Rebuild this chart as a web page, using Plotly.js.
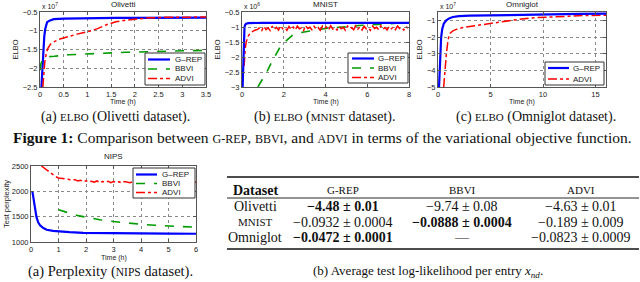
<!DOCTYPE html>
<html><head><meta charset="utf-8">
<script src="https://cdn.plot.ly/plotly-3.0.1.min.js"></script>
<style>html,body{margin:0;padding:0;background:#fff}#chart{width:640px;height:282px}</style>
</head><body><div id="chart"></div>
<script>
// ---------------- data ----------------
const seriesNames = ['G–REP', 'BBVI', 'ADVI'];

// Olivetti (ELBO x 1e7)
const ol_t_grep = [0.03, 0.05, 0.07, 0.09, 0.11, 0.13, 0.15, 0.2, 0.29, 0.5, 0.8, 1.2, 1.6, 2.0, 2.5, 3.0, 3.5];
const ol_grep   = [-2.5, -2.0, -1.5, -1.15, -0.95, -0.83, -0.77, -0.73, -0.69, -0.675, -0.665, -0.66, -0.655, -0.655, -0.65, -0.65, -0.65];
const ol_t_bbvi = [0.0, 0.02, 0.05, 0.1, 0.15, 0.2, 0.3, 0.4, 0.5, 0.6, 0.8, 1.0, 1.2, 1.4, 1.6, 1.8, 2.0, 2.2, 2.4, 2.6, 2.8, 3.0, 3.2, 3.5];
const ol_bbvi   = [-2.05, -1.88, -1.79, -1.74, -1.72, -1.69, -1.68, -1.66, -1.655, -1.64, -1.63, -1.615, -1.6, -1.59, -1.585, -1.575, -1.565, -1.56, -1.55, -1.545, -1.54, -1.535, -1.53, -1.525];
const ol_t_advi = [0.06, 0.08, 0.1, 0.13, 0.16, 0.22, 0.3, 0.4, 0.57, 0.78, 1.0, 1.2, 1.4, 1.6, 1.8, 2.0, 2.3, 2.7, 3.1, 3.5];
const ol_advi   = [-2.5, -2.1, -1.85, -1.62, -1.48, -1.36, -1.29, -1.23, -1.16, -1.09, -1.03, -0.95, -0.84, -0.76, -0.72, -0.69, -0.655, -0.64, -0.635, -0.635];

// MNIST (ELBO x 1e6)
const mn_t_grep = [0.03, 0.06, 0.09, 0.12, 0.16, 0.2, 0.3, 0.5, 1, 2, 4, 6, 8];
const mn_grep   = [-3.0, -2.0, -1.3, -1.0, -0.92, -0.89, -0.87, -0.86, -0.86, -0.86, -0.86, -0.86, -0.86];
const mn_t_bbvi = [0.76, 1.0, 1.24, 1.45, 1.64, 1.8, 1.96, 2.2, 2.43, 2.8, 3.23, 3.6, 4.02, 4.4, 4.82, 5.2, 5.6, 6.0, 6.4, 6.8, 7.2, 7.6, 8.0];
const mn_bbvi   = [-3.0, -2.72, -2.43, -2.13, -1.88, -1.7, -1.55, -1.4, -1.27, -1.19, -1.13, -1.09, -1.05, -1.02, -1.0, -0.97, -0.95, -0.935, -0.92, -0.9, -0.885, -0.87, -0.85];
const mn_t_advi = [0.10, 0.13, 0.16, 0.20, 0.25, 0.30, 0.38, 0.46, 0.55, 0.65, 0.75,
  0.85, 0.95, 1.05, 1.15, 1.25, 1.35, 1.45, 1.55, 1.65, 1.75, 1.85, 1.95, 2.05, 2.15, 2.25, 2.35,
  2.45, 2.55, 2.65, 2.75, 2.85, 2.95, 3.05, 3.15, 3.25, 3.35, 3.45, 3.55, 3.65, 3.75, 3.85, 3.95,
  4.05, 4.15, 4.25, 4.35, 4.45, 4.55, 4.65, 4.75, 4.85, 4.95, 5.05, 5.15, 5.25, 5.35, 5.45, 5.55,
  5.65, 5.75, 5.85, 5.95, 6.05, 6.15, 6.25, 6.35, 6.45, 6.55, 6.65, 6.75, 6.85, 6.95, 7.05, 7.15,
  7.25, 7.35, 7.45, 7.55, 7.65, 7.75, 7.85, 7.95];
const mn_advi = [-2.3, -1.9, -1.7, -1.5, -1.38, -1.3, -1.22, -1.17, -1.13, -1.1, -1.08,
  -1.02, -1.11, -0.98, -1.09, -1.03, -1.12, -0.97, -1.07, -1.01, -1.10, -0.96, -1.06, -1.02, -1.11, -0.98, -1.08,
  -1.00, -1.10, -0.97, -1.06, -1.03, -1.12, -0.96, -1.05, -1.01, -1.09, -0.98, -1.07, -1.02, -1.11, -0.97, -1.05,
  -1.00, -1.09, -0.96, -1.07, -1.03, -1.10, -0.98, -1.06, -1.01, -1.11, -0.97, -1.05, -1.02, -1.09, -0.96, -1.07,
  -1.00, -1.10, -0.98, -1.06, -1.03, -1.11, -0.97, -1.05, -1.01, -1.09, -0.96, -1.07, -1.02, -1.10, -0.98, -1.06,
  -1.00, -1.09, -0.97, -1.05, -1.02, -1.10, -0.98, -1.04];

// Omniglot (ELBO x 1e7)
const om_t_grep = [0.1, 0.15, 0.22, 0.3, 0.41, 0.55, 0.79, 1.1, 1.42, 2.0, 3.0, 4.5, 6.1, 8.5, 10.9, 13.5, 16];
const om_grep   = [-5.0, -4.0, -3.0, -2.0, -1.5, -1.2, -1.0, -0.87, -0.8, -0.75, -0.72, -0.7, -0.68, -0.65, -0.63, -0.615, -0.6];
const om_t_advi = [0.54, 0.65, 0.8, 0.95, 1.1, 1.42, 1.8, 2.37, 3.2, 4.6, 6.15, 7.7, 9.3, 10.9, 12.5, 14.0, 16];
const om_advi   = [-5.0, -4.0, -3.0, -2.2, -1.8, -1.63, -1.53, -1.43, -1.35, -1.24, -1.08, -0.94, -0.84, -0.78, -0.75, -0.71, -0.69];

// NIPS (test perplexity)
const ni_t_grep = [0.05, 0.08, 0.12, 0.16, 0.2, 0.26, 0.33, 0.45, 0.57, 0.8, 1.0, 1.4, 1.9, 3, 4, 5, 6];
const ni_grep   = [2000, 1880, 1750, 1600, 1490, 1390, 1330, 1275, 1241, 1220, 1208, 1195, 1182, 1172, 1167, 1164, 1163];
const ni_t_bbvi = [1.0, 1.25, 1.5, 1.75, 2.0, 2.5, 3.0, 3.5, 4.0, 4.5, 5.0, 5.5, 6.0];
const ni_bbvi   = [1635, 1590, 1550, 1515, 1490, 1440, 1405, 1375, 1348, 1330, 1313, 1300, 1292];
const ni_t_advi = [0.38, 0.45, 0.5, 0.6, 0.7, 0.8, 0.9,
  1.0, 1.1, 1.2, 1.3, 1.4, 1.5, 1.6, 1.7, 1.8, 1.9, 2.0, 2.1, 2.2, 2.3, 2.4, 2.5, 2.6, 2.7, 2.8, 2.9,
  3.0, 3.1, 3.2, 3.3, 3.4, 3.5, 3.6, 3.7, 3.8, 3.9, 4.0, 4.1, 4.2, 4.3, 4.4, 4.5, 4.6, 4.7, 4.8, 4.9,
  5.0, 5.1, 5.2, 5.3, 5.4, 5.5, 5.6, 5.7, 5.8, 5.9, 6.0];
const ni_advi = [2500, 2470, 2455, 2400, 2370, 2330, 2290,
  2265, 2255, 2250, 2235, 2240, 2225, 2230, 2205, 2220, 2190, 2210, 2185, 2200, 2180, 2205, 2175, 2195, 2180, 2200, 2170,
  2195, 2175, 2190, 2165, 2195, 2180, 2170, 2190, 2165, 2185, 2175, 2190, 2170, 2185, 2175, 2165, 2185, 2175, 2190, 2170,
  2180, 2185, 2170, 2180, 2175, 2185, 2170, 2180, 2175, 2185, 2180];

// table
const tableHeader = ['Dataset', 'G-REP', 'BBVI', 'ADVI'];
const tableDatasets = ['Olivetti', 'MNIST', 'Omniglot'];
const col_grep = ['−4.48 ± 0.01', '−0.0932 ± 0.0004', '−0.0472 ± 0.0001'];
const col_bbvi = ['−9.74 ± 0.08', '−0.0888 ± 0.0004', '—'];
const col_advi = ['−4.63 ± 0.01', '−0.189 ± 0.009', '−0.0823 ± 0.0009'];
const boldCells = [[0, 0], [1, 1], [2, 0]]; // [row, method col]

// ---------------- layout helpers ----------------
const W = 640, H = 282;
const px = x => x / W, py = y => 1 - y / H;
const BLUE = 'rgb(0,0,255)', GREEN = 'rgb(0,155,0)', RED = 'rgb(255,0,0)';
const styles = [
  {color: BLUE, width: 2.2, dash: 'solid'},
  {color: GREEN, width: 1.6, dash: 'dash'},
  {color: RED, width: 1.5, dash: 'dashdot'}
];
const SANS = 'Liberation Sans, Arial, sans-serif';
const SERIF = 'Liberation Serif, Times New Roman, serif';

function axis(dom, range, dtick, title, anchor, standoff) {
  const a = {
    domain: dom, range: range, dtick: dtick, tick0: 0, anchor: anchor,
    showgrid: true, gridcolor: '#8a8a8a', griddash: 'dot', gridwidth: 1,
    zeroline: false, showline: true, mirror: 'ticks', linecolor: '#555', linewidth: 1,
    ticks: 'inside', ticklen: 3, tickcolor: '#555',
    tickfont: {family: SANS, size: 7.5, color: '#222'},
    automargin: false, fixedrange: true
  };
  if (title) a.title = {text: title, font: {family: SANS, size: 7.5, color: '#222'}, standoff: standoff};
  return a;
}

function tr(x, y, xa, ya, k) {
  return {x: x, y: y, xaxis: xa, yaxis: ya, type: 'scatter', mode: 'lines',
    name: seriesNames[k], showlegend: false, hoverinfo: 'skip',
    line: {color: styles[k].color, width: styles[k].width, dash: styles[k].dash}};
}

const data = [
  tr(ol_t_grep, ol_grep, 'x', 'y', 0),
  tr(ol_t_bbvi, ol_bbvi, 'x', 'y', 1),
  tr(ol_t_advi, ol_advi, 'x', 'y', 2),
  tr(mn_t_bbvi, mn_bbvi, 'x2', 'y2', 1),
  tr(mn_t_advi, mn_advi, 'x2', 'y2', 2),
  tr(mn_t_grep, mn_grep, 'x2', 'y2', 0),
  tr(om_t_advi, om_advi, 'x3', 'y3', 2),
  tr(om_t_grep, om_grep, 'x3', 'y3', 0),
  tr(ni_t_grep, ni_grep, 'x4', 'y4', 0),
  tr(ni_t_bbvi, ni_bbvi, 'x4', 'y4', 1),
  tr(ni_t_advi, ni_advi, 'x4', 'y4', 2)
];

const shapes = [];
const annotations = [];

function ann(text, x, y, opts) {
  annotations.push(Object.assign({
    text: text, x: px(x), y: py(y), xref: 'paper', yref: 'paper', showarrow: false,
    xanchor: 'center', yanchor: 'middle', borderpad: 0,
    font: {family: SANS, size: 8, color: '#222'}
  }, opts || {}));
}

// manual legends
function legendBox(x0, y0, x1, y1, lx0, lx1, tx, entries) {
  shapes.push({type: 'rect', xref: 'paper', yref: 'paper', x0: px(x0), x1: px(x1), y0: py(y0), y1: py(y1),
    fillcolor: 'white', line: {color: '#333', width: 1}});
  entries.forEach(e => {
    const s = styles[e.k];
    shapes.push({type: 'line', xref: 'paper', yref: 'paper', x0: px(lx0), x1: px(lx1), y0: py(e.y), y1: py(e.y),
      line: {color: s.color, width: s.width, dash: s.dash}});
    ann(seriesNames[e.k], tx, e.y, {xanchor: 'left'});
  });
}

// plot domains (pixels)
const P1 = {x0: 40, x1: 206, y0: 12, y1: 87};
const P2 = {x0: 242, x1: 409, y0: 12, y1: 87};
const P3 = {x0: 438, x1: 606, y0: 12, y1: 87};
const P4 = {x0: 31, x1: 196, y0: 166, y1: 242};
const xd = p => [px(p.x0), px(p.x1)], yd = p => [py(p.y1), py(p.y0)];

const layout = {
  width: W, height: H, margin: {l: 0, r: 0, t: 0, b: 0},
  paper_bgcolor: 'white', plot_bgcolor: 'white', showlegend: false,
  font: {family: SANS, size: 8, color: '#222'},
  xaxis: axis(xd(P1), [0, 3.5], 0.5, null, 'y', 0),
  yaxis: axis(yd(P1), [-2.5, -0.5], 0.5, 'ELBO', 'x', 3),
  xaxis2: axis(xd(P2), [0, 8], 2, null, 'y2', 0),
  yaxis2: axis(yd(P2), [-3, -0.5], 0.5, 'ELBO', 'x2', 3),
  xaxis3: axis(xd(P3), [0, 16], 5, null, 'y3', 0),
  yaxis3: axis(yd(P3), [-5, -0.5], 1, 'ELBO', 'x3', 3),
  xaxis4: axis(xd(P4), [0, 6], 1, null, 'y4', 0),
  yaxis4: axis(yd(P4), [1000, 2500], 500, 'Test perplexity', 'x4', 1),
  shapes: shapes, annotations: annotations
};

// plot titles, x-axis titles & exponents
const smallFont = {family: SANS, size: 7, color: '#222'};
ann('Olivetti', (P1.x0 + P1.x1) / 2, 4);
ann('MNIST', (P2.x0 + P2.x1) / 2, 4);
ann('Omniglot', (P3.x0 + P3.x1) / 2, 4);
ann('NIPS', (P4.x0 + P4.x1) / 2, 156);
[P1, P2, P3].forEach(p => ann('Time (h)', (p.x0 + p.x1) / 2, 102.5, {font: smallFont}));
ann('Time (h)', (P4.x0 + P4.x1) / 2, 257.5, {font: smallFont});
ann('x 10<sup>7</sup>', P1.x0 + 1, 6, {xanchor: 'left', font: smallFont});
ann('x 10<sup>6</sup>', P2.x0 + 1, 6, {xanchor: 'left', font: smallFont});
ann('x 10<sup>7</sup>', P3.x0 + 1, 6, {xanchor: 'left', font: smallFont});

// legends
legendBox(145, 53, 205, 85, 148, 170, 174, [{k: 0, y: 59.5}, {k: 1, y: 69}, {k: 2, y: 78.5}]);
legendBox(348, 53, 408, 83, 352, 374, 377, [{k: 0, y: 58.5}, {k: 1, y: 68}, {k: 2, y: 77.5}]);
legendBox(545, 62, 604, 85, 548, 569, 572, [{k: 0, y: 68}, {k: 2, y: 79}]);
legendBox(133, 168, 195, 198, 136, 157, 161, [{k: 0, y: 174.5}, {k: 1, y: 183.5}, {k: 2, y: 192.5}]);

// captions
const capFont = s => ({family: SERIF, size: s, color: '#111'});
ann('(a) ' + "<span style='font-size:11px'>ELBO</span>" + ' (Olivetti dataset).', 115, 116.5, {font: capFont(14)});
ann('(b) ' + "<span style='font-size:11px'>ELBO</span>" + ' (' + "<span style='font-size:11px'>MNIST</span>" + ' dataset).', 325, 116.5, {font: capFont(14)});
ann('(c) ' + "<span style='font-size:11px'>ELBO</span>" + ' (Omniglot dataset).', 536, 116.5, {font: capFont(14)});
ann("<b>Figure 1:</b> Comparison between <span style='font-size:12px'>G-REP</span>, <span style='font-size:12px'>BBVI</span>, and <span style='font-size:12px'>ADVI</span> in terms of the variational objective function.",
  322, 137, {font: capFont(15.5)});
ann('(a) Perplexity (' + "<span style='font-size:11.5px'>NIPS</span>" + ' dataset).', 110, 271, {font: capFont(14.5)});
ann('(b) Average test log-likelihood per entry <i>x</i><sub><i>nd</i></sub>.', 428, 271, {font: capFont(13)});

// table
const TX0 = 227, TX1 = 639;
shapes.push({type: 'line', xref: 'paper', yref: 'paper', x0: px(TX0), x1: px(TX1), y0: py(177), y1: py(177), line: {color: '#111', width: 1.5}});
shapes.push({type: 'line', xref: 'paper', yref: 'paper', x0: px(TX0), x1: px(TX1), y0: py(198), y1: py(198), line: {color: '#111', width: 0.9}});
shapes.push({type: 'line', xref: 'paper', yref: 'paper', x0: px(TX0), x1: px(TX1), y0: py(249), y1: py(249), line: {color: '#111', width: 1.5}});
const colX = [255, 343, 462, 581];
const rowY = [206.5, 222, 237.5];
const tf = capFont(14);
ann('<b>' + tableHeader[0] + '</b>', colX[0], 190.5, {font: tf});
for (let c = 1; c < 4; c++) ann("<span style='font-size:11px'>" + tableHeader[c] + '</span>', colX[c], 190.5, {font: tf});
const cols = [col_grep, col_bbvi, col_advi];
for (let r = 0; r < 3; r++) {
  const dname = tableDatasets[r] === 'MNIST' ? "<span style='font-size:11px'>MNIST</span>" : tableDatasets[r];
  ann(dname, colX[0], rowY[r], {font: tf});
  for (let c = 0; c < 3; c++) {
    const isBold = boldCells.some(b => b[0] === r && b[1] === c);
    const txt = isBold ? '<b>' + cols[c][r] + '</b>' : cols[c][r];
    ann(txt, colX[c + 1], rowY[r], {font: tf});
  }
}

Plotly.newPlot('chart', data, layout, {staticPlot: true, displayModeBar: false});
</script></body></html>
